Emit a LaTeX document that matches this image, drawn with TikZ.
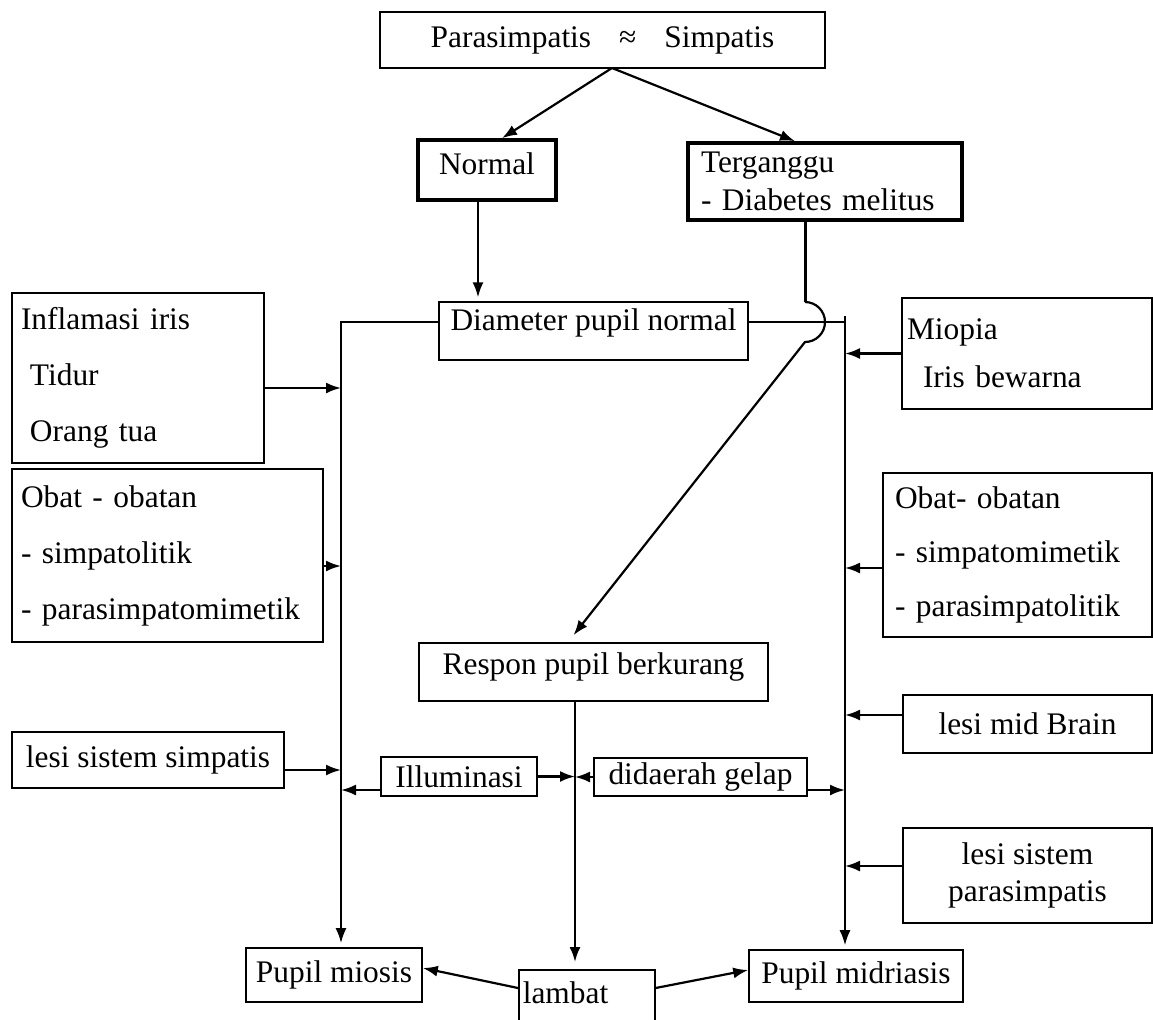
\documentclass[tikz,border=0pt]{standalone}
\usepackage{fontspec}
\setmainfont{Liberation Serif}
\usetikzlibrary{arrows.meta}

\tikzset{
  caja/.style={draw, line width=0.8pt, inner sep=0pt, font=\fontsize{15.7}{19}\selectfont},
  cajagruesa/.style={caja, line width=1.8pt},
  lista/.style={caja, align=left},
  flecha/.style={-{Latex[length=7.5pt,width=5.5pt]}, line width=1.1pt},
  linea/.style={line width=1pt}
}

\begin{document}
\begin{tikzpicture}[x=0.5pt, y=-0.5pt]
        % Marco del dibujo
        \fill[white] (0,0) rectangle (1153,1019);
        \useasboundingbox (0,0) rectangle (1153,1019);
        \clip (0,0) rectangle (1153,1019);

        % Nodos centrales
        \node[caja, minimum width=222.5pt, minimum height=28pt] (pusat) at (602.5,40)
            {Parasimpatis\hspace{14pt}≈\hspace{14pt}Simpatis};
        \node[cajagruesa, minimum width=69pt, minimum height=30pt, text height=11pt, text depth=7pt] (normal) at (487,170) {Normal};
        \node[cajagruesa, align=left, inner xsep=6.5pt, text width=124pt, minimum height=38.5pt] (terganggu) at (825,181.5)
            {Terganggu\\- Diabetes melitus};
        \node[caja, line width=0.6pt, minimum width=154.5pt, minimum height=29pt, text height=11pt, text depth=12pt] (diameter) at (593.5,331) {Diameter pupil normal};
        \node[caja, minimum width=174.5pt, minimum height=29pt, text height=11pt, text depth=8.5pt] (respon) at (593.5,672) {Respon pupil berkurang};
        \node[caja, minimum width=78pt, minimum height=19.5pt] (iluminasi) at (459,776.5) {Illuminasi};
        \node[caja, minimum width=106.5pt, minimum height=19pt] (gelap) at (700.5,777) {didaerah gelap};

        % Factores del lado izquierdo
        \node[lista, inner xsep=4.5pt, text width=117pt, minimum height=85pt, font=\fontsize{15.7}{28}\selectfont] (inflamasi) at (138,378)
            {Inflamasi iris\\\hspace*{4.5pt}Tidur\\\hspace*{4.5pt}Orang tua};
        \node[lista, inner xsep=4.5pt, text width=146.5pt, minimum height=86.5pt, font=\fontsize{15.7}{28}\selectfont] (obatkiri) at (167.5,555.5)
            {Obat - obatan\\- simpatolitik\\- parasimpatomimetik};
        \node[caja, minimum width=136pt, minimum height=28pt] (simpatis) at (148,760) {lesi sistem simpatis};

        % Factores del lado derecho
        \node[lista, inner xsep=2.5pt, text width=120pt, minimum height=55.5pt, font=\fontsize{15.7}{24}\selectfont] (miopia) at (1027,353.5)
            {Miopia\\\hspace*{8pt}Iris bewarna};
        \node[lista, inner xsep=6pt, text width=122.5pt, minimum height=82pt, font=\fontsize{15.7}{27}\selectfont] (obatkanan) at (1017.5,555)
            {Obat- obatan\\- simpatomimetik\\- parasimpatolitik};
        \node[caja, minimum width=124.5pt, minimum height=29pt] (midbrain) at (1027.5,724) {lesi mid Brain};
        \node[caja, align=center, minimum width=124.5pt, minimum height=47.5pt, font=\fontsize{15.7}{18.5}\selectfont] (parasimpatis) at (1027.5,875.5)
            {lesi sistem\\parasimpatis};

        % Resultados
        \node[caja, minimum width=88pt, minimum height=27pt] (miosis) at (334,975) {Pupil miosis};
        \node[caja, minimum width=107pt, minimum height=26pt] (midriasis) at (856,976) {Pupil midriasis};
        \node[caja, anchor=north west, align=left, inner xsep=2pt, text width=64pt, text height=17pt, text depth=40pt] (lambat) at (518,969) {lambat};

        % Puntos de las lineas verticales
        \coordinate (cabang) at (612,68);
        \coordinate (kiri) at (341,322);
        \coordinate (kanan) at (845,316);
        \coordinate (tengah) at (575,702);
        \coordinate (lompat) at (805,302);
        \coordinate (turun) at ([xshift=-4.5pt]normal.south);
        \coordinate (dkiri) at ([yshift=4.5pt]diameter.west);
        \coordinate (dkanan) at ([yshift=4.5pt]diameter.east);

        % Flechas superiores
        \draw[flecha] (cabang) -- ([xshift=7.5pt]normal.north);
        \draw[flecha] (cabang) -- ([xshift=-15pt]terganggu.north);
        \draw[flecha] (turun) -- ([yshift=2pt]turun |- diameter.north);
        \draw[line width=1.5pt] ([xshift=-10pt]terganggu.south) -- (lompat);
        \draw[flecha] (lompat) arc[start angle=90, end angle=-90, radius=10pt]
            -- ([xshift=-10pt,yshift=3.5pt]respon.north);

        % Lineas verticales
        \draw[flecha] (dkiri) -| ([xshift=3.5pt,yshift=2pt]miosis.north);
        \draw[line width=0.6pt] (dkanan) -- (dkanan -| kanan);
        \draw[flecha, line width=0.9pt] (kanan) -- ([yshift=2pt]kanan |- midriasis.north);
        \draw[flecha] (tengah) -- ([yshift=3.5pt]tengah |- lambat.north);

        % Flechas hacia la izquierda
        \draw[flecha] ([yshift=-5pt]inflamasi.east) -- ([yshift=-5pt]inflamasi.east -| kiri);
        \draw[flecha] ([yshift=-5.25pt]obatkiri.east) -- ([yshift=-5.25pt]obatkiri.east -| kiri);
        \draw[flecha] ([yshift=-5pt]simpatis.east) -- ([yshift=-5pt]simpatis.east -| kiri);
        \draw[flecha] ([yshift=-6.75pt]iluminasi.west) -- ([yshift=-6.75pt]iluminasi.west -| kiri);

        % Flechas al centro
        \draw[flecha] (iluminasi.east) -- (iluminasi.east -| tengah);
        \draw[flecha] (gelap.west) -- (gelap.west -| tengah);

        % Flechas hacia la derecha
        \draw[flecha] ([yshift=-6.5pt]gelap.east) -- ([yshift=-6.5pt]gelap.east -| kanan);
        \draw[flecha] (miopia.west) -- (miopia.west -| kanan);
        \draw[flecha] ([yshift=-6.5pt]obatkanan.west) -- ([yshift=-6.5pt]obatkanan.west -| kanan);
        \draw[flecha] ([yshift=4.5pt]midbrain.west) -- ([yshift=4.5pt]midbrain.west -| kanan);
        \draw[flecha] ([yshift=4.75pt]parasimpatis.west) -- ([yshift=4.75pt]parasimpatis.west -| kanan);

        % Flechas inferiores
        \draw[flecha] ([yshift=-9.5pt]lambat.north west) -- ([yshift=3.5pt]miosis.east);
        \draw[flecha] ([yshift=-9.5pt]lambat.north east) -- ([yshift=3pt]midriasis.west);
    \end{tikzpicture}
\end{document}
